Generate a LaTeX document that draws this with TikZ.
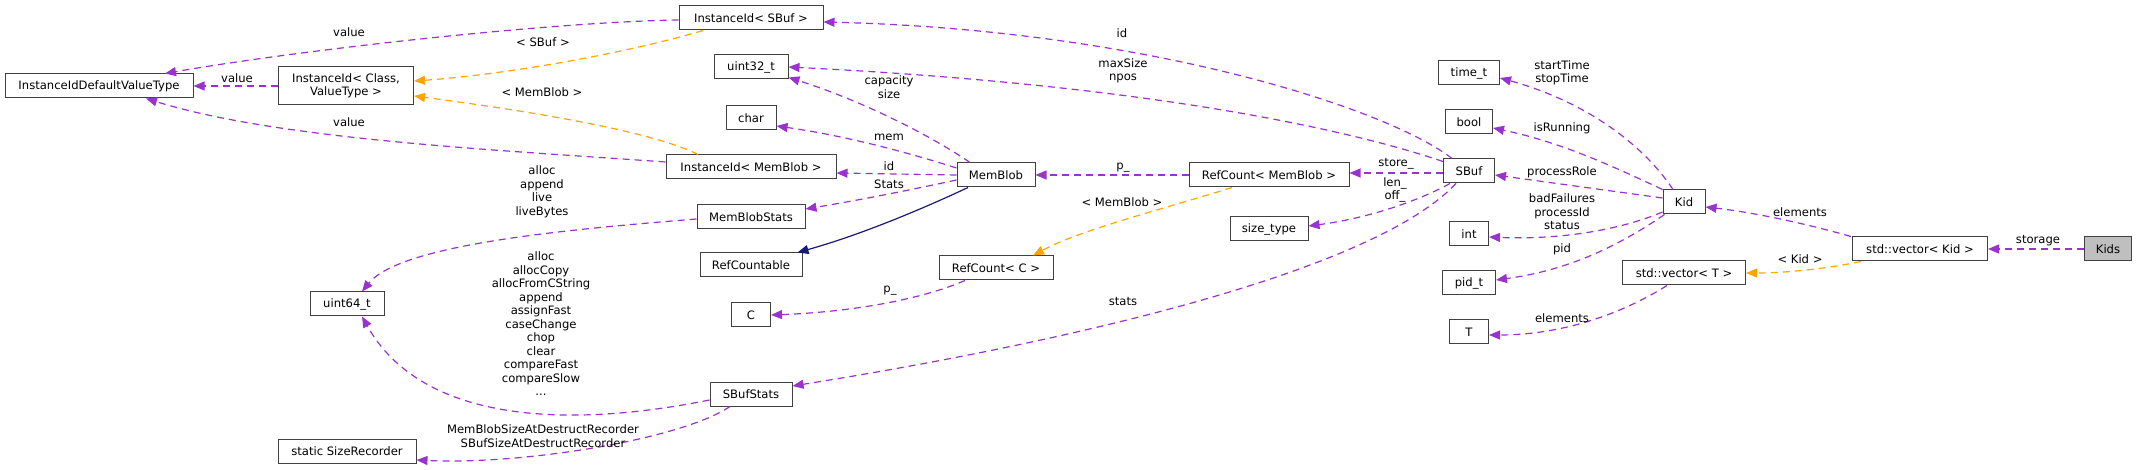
\documentclass[tikz,border=0pt]{standalone}
\usepackage{fontspec}
\setmainfont{DejaVu Sans}
\usetikzlibrary{arrows.meta}
\definecolor{deppurple}{HTML}{9A32CD}
\definecolor{tplorange}{HTML}{FFA500}
\definecolor{inhnavy}{HTML}{191970}
\definecolor{kidsgray}{HTML}{BFBFBF}
\newcommand\graphfont{\fontsize{11.6}{13.5}\selectfont}

\begin{document}
\begin{tikzpicture}[x=1pt,y=-1pt,
  cls/.style={draw=black!75,line width=1pt,fill=white,minimum height=24pt,inner sep=2pt,font=\graphfont,align=center},
  lbl/.style={font=\graphfont,inner sep=0pt,align=center},
  dep/.style={draw=deppurple,line width=1.2pt,dash pattern=on 7pt off 5pt,-{Triangle[length=11pt,width=9pt]}},
  tpl/.style={dep,draw=tplorange},
  inh/.style={draw=inhnavy,line width=1.2pt,-{Triangle[length=11pt,width=9pt]}}]
\useasboundingbox (0,0) rectangle (2137,470);
% classes
\node[cls,minimum width=188pt] (idv) at (99,86) {InstanceIdDefaultValueType};
\node[cls,minimum width=135pt,minimum height=38pt] (idcv) at (346,86) {InstanceId< Class,\\ValueType >};
\node[cls,minimum width=144pt] (idsbuf) at (751,18) {InstanceId< SBuf >};
\node[cls,minimum width=74pt] (u32) at (751,67) {uint32\_t};
\node[cls,minimum width=50pt] (chr) at (751,118) {char};
\node[cls,minimum width=170pt] (idmb) at (751,167) {InstanceId< MemBlob >};
\node[cls,minimum width=108pt] (mbs) at (751,217) {MemBlobStats};
\node[cls,minimum width=102pt] (rcable) at (751,265) {RefCountable};
\node[cls,minimum width=39pt] (cc) at (751,315) {C};
\node[cls,minimum width=82pt] (sbs) at (751,394) {SBufStats};
\node[cls,minimum width=74pt] (u64) at (347,304) {uint64\_t};
\node[cls,minimum width=138pt] (ssr) at (347,451) {static SizeRecorder};
\node[cls,minimum width=78pt] (mb) at (996,175) {MemBlob};
\node[cls,minimum width=160pt] (rcmb) at (1269,175) {RefCount< MemBlob >};
\node[cls,minimum width=114pt] (rcc) at (996,268) {RefCount< C >};
\node[cls,minimum width=78pt] (szt) at (1269,229) {size\_type};
\node[cls,minimum width=61pt] (tmt) at (1469,73) {time\_t};
\node[cls,minimum width=47pt] (bl) at (1469,122) {bool};
\node[cls,minimum width=51pt] (sbuf) at (1469,171) {SBuf};
\node[cls,minimum width=39pt] (int) at (1469,234) {int};
\node[cls,minimum width=53pt] (pid) at (1469,283) {pid\_t};
\node[cls,minimum width=39pt] (tt) at (1469,332) {T};
\node[cls,minimum width=42pt] (kid) at (1684,202) {Kid};
\node[cls,minimum width=123pt] (vect) at (1684,273) {std::vector< T >};
\node[cls,minimum width=135pt] (veck) at (1920,249) {std::vector< Kid >};
\node[cls,minimum width=47pt,fill=kidsgray] (kids) at (2108,249) {Kids};
% connectors
\draw[dep] (kids.west) -- (veck.east);
\draw[dep] ([xshift=-1pt]veck.north west) .. controls (1800,222) and (1750,212) .. ([yshift=-5pt]kid.east);
\draw[tpl] ([xshift=9pt]veck.south west) .. controls (1820,270) and (1780,273) .. (vect.east);
\draw[dep] ([xshift=-17pt]vect.south) .. controls (1620,315) and (1560,335) .. ([yshift=-3pt]tt.east);
\draw[dep] ([xshift=-11pt]kid.north) .. controls (1640,140) and (1580,100) .. ([yshift=-5pt]tmt.east);
\draw[dep] (kid.north west) .. controls (1610,165) and (1560,142) .. ([yshift=-6pt]bl.east);
\draw[dep] ([yshift=4pt]kid.west) -- ([yshift=-4pt]sbuf.east);
\draw[dep] ([yshift=-10pt]kid.west) .. controls (1620,230) and (1560,240) .. ([yshift=-3pt]int.east);
\draw[dep] ([xshift=2pt]kid.south west) .. controls (1620,245) and (1570,270) .. ([yshift=3pt]pid.east);
\draw[dep] ([xshift=-17pt]sbuf.north) .. controls (1390,110) and (1150,30) .. ([yshift=-4pt]idsbuf.east);
\draw[dep] ([yshift=-3pt]sbuf.north west) .. controls (1350,130) and (1150,85) .. (u32.east);
\draw[dep] ([yshift=-2pt]sbuf.west) -- ([yshift=2pt]rcmb.east);
\draw[dep] ([xshift=-19pt]sbuf.south) .. controls (1420,200) and (1370,218) .. ([yshift=3pt]szt.east);
\draw[dep] ([xshift=-13pt]sbuf.south) .. controls (1370,275) and (1050,345) .. ([yshift=8pt]sbs.east);
\draw[dep] (rcmb.west) -- (mb.east);
\draw[tpl] ([xshift=-37pt]rcmb.south) .. controls (1160,210) and (1080,230) .. ([xshift=37pt]rcc.north);
\draw[dep] ([xshift=-31pt]rcc.south) .. controls (920,300) and (850,312) .. (cc.east);
\draw[inh] ([xshift=-28pt]mb.south) .. controls (920,210) and (860,235) .. ([xshift=-5pt]rcable.north east);
\draw[dep] ([xshift=-26pt]mb.north) .. controls (930,135) and (860,100) .. ([yshift=2pt]u32.south east);
\draw[dep] ([yshift=7pt]mb.west) .. controls (900,150) and (840,135) .. ([yshift=-8pt]chr.east);
\draw[dep] (mb.west) -- ([yshift=-6pt]idmb.east);
\draw[dep] ([yshift=-5pt]mb.west) .. controls (910,190) and (860,200) .. ([yshift=8pt]mbs.east);
\draw[tpl] ([xshift=-53pt]idmb.north) .. controls (660,135) and (560,115) .. ([yshift=-10pt]idcv.east);
\draw[tpl] ([xshift=-48pt]idsbuf.south) .. controls (620,55) and (500,75) .. ([yshift=5pt]idcv.east);
\draw[dep] ([yshift=-2pt]idsbuf.west) .. controls (550,22) and (300,50) .. ([xshift=66pt]idv.north);
\draw[dep] (idcv.west) -- (idv.east);
\draw[dep] ([yshift=5pt]idmb.west) .. controls (500,150) and (280,140) .. ([xshift=47pt]idv.south);
\draw[dep] ([yshift=-2pt]mbs.west) .. controls (560,230) and (400,245) .. ([xshift=15pt]u64.north);
\draw[dep] ([yshift=-6pt]sbs.west) .. controls (560,430) and (420,420) .. ([xshift=15pt]u64.south);
\draw[dep] ([xshift=-21pt]sbs.south) .. controls (680,440) and (520,465) .. ([yshift=-9pt]ssr.east);
% labels
\node[lbl] (l_storage) at (2038,241) {storage};
\node[lbl] (l_elemk) at (1800,212) {elements};
\node[lbl] (l_kid) at (1800,259) {< Kid >};
\node[lbl] (l_elemt) at (1562,318) {elements};
\node[lbl] (l_time) at (1562,73) {startTime\\stopTime};
\node[lbl] (l_run) at (1562,128) {isRunning};
\node[lbl] (l_role) at (1562,172) {processRole};
\node[lbl] (l_fail) at (1562,212) {badFailures\\processId\\status};
\node[lbl] (l_pid) at (1562,249) {pid};
\node[lbl] (l_idsb) at (1122,33) {id};
\node[lbl] (l_max) at (1123,71) {maxSize\\npos};
\node[lbl] (l_store) at (1396,164) {store\_};
\node[lbl] (l_len) at (1395,190) {len\_\\off\_};
\node[lbl] (l_stats) at (1123,302) {stats};
\node[lbl] (l_pmb) at (1123,168) {p\_};
\node[lbl] (l_mbtpl) at (1122,202) {< MemBlob >};
\node[lbl] (l_pc) at (890,291) {p\_};
\node[lbl] (l_cap) at (889,87) {capacity\\size};
\node[lbl] (l_mem) at (889,137) {mem};
\node[lbl] (l_idmb) at (889,166) {id};
\node[lbl] (l_mbst) at (889,184) {Stats};
\node[lbl] (l_idmbtpl) at (542,92) {< MemBlob >};
\node[lbl] (l_sbtpl) at (543,42) {< SBuf >};
\node[lbl] (l_val1) at (349,32) {value};
\node[lbl] (l_val2) at (237,78) {value};
\node[lbl] (l_val3) at (349,122) {value};
\node[lbl] (l_mbsf) at (542,192) {alloc\\append\\live\\liveBytes};
\node[lbl] (l_sbsf) at (541,324) {alloc\\allocCopy\\allocFromCString\\append\\assignFast\\caseChange\\chop\\clear\\compareFast\\compareSlow\\...};
\node[lbl] (l_rec) at (543,436) {MemBlobSizeAtDestructRecorder\\SBufSizeAtDestructRecorder};
\end{tikzpicture}
\end{document}
